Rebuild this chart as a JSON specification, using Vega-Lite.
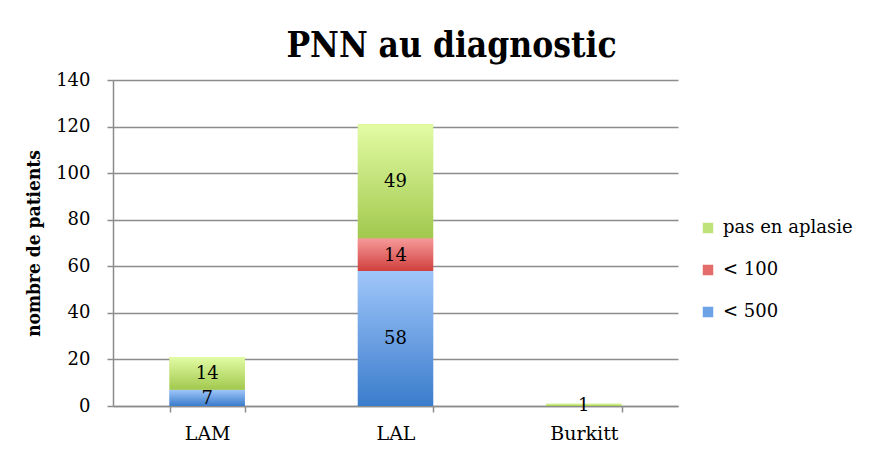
{
  "$schema": "https://vega.github.io/schema/vega-lite/v6.json",
  "width": 565,
  "height": 326,
  "autosize": {"type": "none"},
  "padding": {"left": 113, "top": 80, "right": 198, "bottom": 44},
  "background": "white",
  "config": {
    "font": "DejaVu Serif",
    "view": {"stroke": null}
  },
  "title": {
    "text": "PNN au diagnostic",
    "font": "DejaVu Serif Condensed",
    "fontSize": 35,
    "fontWeight": "bold",
    "color": "#000000",
    "anchor": "middle",
    "dx": 56,
    "offset": 7
  },
  "data": {
    "values": [
      {"category": "LAM", "series": "< 500", "count": 7},
      {"category": "LAM", "series": "pas en aplasie", "count": 14},
      {"category": "LAL", "series": "< 500", "count": 58},
      {"category": "LAL", "series": "< 100", "count": 14},
      {"category": "LAL", "series": "pas en aplasie", "count": 49},
      {"category": "Burkitt", "series": "pas en aplasie", "count": 1}
    ]
  },
  "transform": [
    {"calculate": "indexof(['< 500','< 100','pas en aplasie'], datum.series)", "as": "rank"},
    {"stack": "count", "groupby": ["category"], "sort": [{"field": "rank", "order": "ascending"}], "as": ["y0", "y1"]},
    {"calculate": "(datum.y0 + datum.y1) / 2", "as": "mid"}
  ],
  "encoding": {
    "x": {
      "field": "category",
      "type": "nominal",
      "sort": ["LAM", "LAL", "Burkitt"],
      "scale": {"paddingInner": 0.6, "paddingOuter": 0.3},
      "axis": {
        "title": null,
        "labelAngle": 0,
        "labelFontSize": 19,
        "labelColor": "#000000",
        "labelPadding": 12,
        "domainColor": "#8c8c8c",
        "domainWidth": 1.5,
        "tickColor": "#8c8c8c",
        "tickWidth": 1.5,
        "tickSize": 6,
        "bandPosition": 0,
        "ticks": true,
        "tickBand": "extent",
        "grid": false
      }
    },
    "y": {
      "field": "y1",
      "type": "quantitative",
      "scale": {"domain": [0, 140]},
      "axis": {
        "title": "nombre de patients",
        "titleFont": "DejaVu Serif Condensed",
        "titleFontSize": 19,
        "titleFontWeight": "bold",
        "titleColor": "#000000",
        "titlePadding": 12,
        "values": [0, 20, 40, 60, 80, 100, 120, 140],
        "labelFontSize": 18,
        "labelColor": "#000000",
        "labelPadding": 17,
        "domainColor": "#8c8c8c",
        "domainWidth": 1.5,
        "tickColor": "#8c8c8c",
        "tickWidth": 1.5,
        "tickSize": 6,
        "gridColor": "#8c8c8c",
        "gridWidth": 1.5
      }
    },
    "y2": {"field": "y0"}
  },
  "layer": [
    {
      "mark": {"type": "bar"},
      "encoding": {
        "fill": {
          "field": "series",
          "type": "nominal",
          "scale": {
            "domain": ["pas en aplasie", "< 100", "< 500"],
            "range": ["#bfe27a", "#e46c6a", "#6ea2e6"]
          },
          "legend": {
            "title": null,
            "orient": "none",
            "legendX": 586,
            "legendY": 139,
            "symbolType": "square",
            "symbolSize": 110,
            "symbolStrokeWidth": 0,
            "symbolOpacity": 1,
            "labelFontSize": 18,
            "labelColor": "#000000",
            "labelOffset": 6,
            "rowPadding": 24
          }
        }
      }
    },
    {
      "transform": [{"filter": "datum.series === '< 500'"}],
      "mark": {"type": "bar", "color": {"gradient": "linear", "x1": 0, "y1": 0, "x2": 0, "y2": 1, "stops": [{"offset": 0, "color": "#a0c6fa"}, {"offset": 1, "color": "#3a7ccc"}]}}
    },
    {
      "transform": [{"filter": "datum.series === '< 100'"}],
      "mark": {"type": "bar", "color": {"gradient": "linear", "x1": 0, "y1": 0, "x2": 0, "y2": 1, "stops": [{"offset": 0, "color": "#f79a9a"}, {"offset": 1, "color": "#d0403e"}]}}
    },
    {
      "transform": [{"filter": "datum.series === 'pas en aplasie'"}],
      "mark": {"type": "bar", "color": {"gradient": "linear", "x1": 0, "y1": 0, "x2": 0, "y2": 1, "stops": [{"offset": 0, "color": "#e2fca4"}, {"offset": 1, "color": "#a2c84e"}]}}
    },
    {
      "mark": {"type": "text", "fontSize": 18, "color": "#000000", "baseline": "middle", "align": "center", "dy": 1},
      "encoding": {
        "y": {"field": "mid", "type": "quantitative"},
        "y2": null,
        "text": {"field": "count", "type": "quantitative"}
      }
    }
  ]
}
